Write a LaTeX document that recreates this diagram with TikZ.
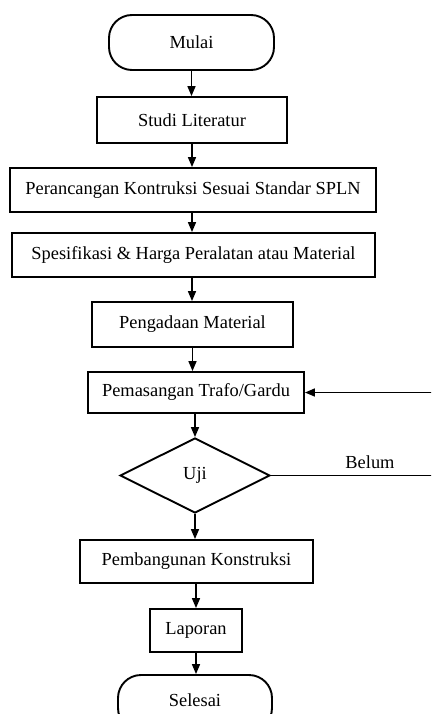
\documentclass[tikz,border=0pt]{standalone}
\usepackage{fontspec}
\setmainfont{Liberation Serif}
\usetikzlibrary{shapes.geometric,arrows.meta}
\tikzset{
  txt/.style={font=\fontsize{18.4}{21}\selectfont},
  box/.style={draw, line width=1.9pt, rectangle, inner sep=0pt, align=center, txt},
  term/.style={box, rounded corners=23pt},
  dec/.style={draw, line width=1.9pt, diamond, inner sep=0pt, txt},
  arr/.style={line width=1.6pt, -{Triangle[length=10pt,width=8pt]}},
  lbl/.style={inner sep=0pt, txt}
}
\begin{document}
\begin{tikzpicture}[x=1pt,y=-1pt]
\useasboundingbox (0,0) rectangle (431,714);
\clip (0,0) rectangle (431,714);
\node[term, minimum width=165pt, minimum height=55pt] (mulai) at (191.5,42.5) {Mulai};
\node[box, minimum width=190pt, minimum height=46pt] (studi) at (192,120) {Studi Literatur};
\node[box, minimum width=366pt, minimum height=44pt] (rancang) at (193,190) {Perancangan Kontruksi Sesuai Standar SPLN};
\node[box, minimum width=363pt, minimum height=44pt] (spek) at (193.5,255) {Spesifikasi \& Harga Peralatan atau Material};
\node[box, minimum width=201pt, minimum height=45pt] (ada) at (192.5,324.5) {Pengadaan Material};
\node[box, minimum width=216pt, minimum height=41pt] (pasang) at (196,392.5) {Pemasangan Trafo/Gardu};
\node[dec, minimum width=150pt, minimum height=75pt] (uji) at (195,475.5) {Uji};
\node[box, minimum width=233pt, minimum height=43pt] (bangun) at (196.5,561.5) {Pembangunan Konstruksi};
\node[box, minimum width=92pt, minimum height=43pt] (lapor) at (196,630.5) {Laporan};
\node[term, minimum width=154pt, minimum height=56pt] (selesai) at (195,703) {\raisebox{6pt}{Selesai}};
\node[lbl] (belum) at (370,462) {Belum};
\coordinate (r) at (440,0);
\draw[arr] (mulai.south) -- (mulai.south |- studi.north);
\draw[arr] (studi.south) -- (studi.south |- rancang.north);
\draw[arr] (rancang.south -| studi.south) -- (studi.south |- spek.north);
\draw[arr] (spek.south -| studi.south) -- (studi.south |- ada.north);
\draw[arr] (ada.south) -- (ada.south |- pasang.north);
\draw[arr] (pasang.south -| uji.north) -- (uji.north);
\draw[arr] (uji.south) -- (uji.south |- bangun.north);
\draw[arr] (bangun.south -| lapor.north) -- (lapor.north);
\draw[arr] (lapor.south) -- (lapor.south |- selesai.north);
\draw[arr] (uji.east) -- (uji.east -| r) -- (pasang.east -| r) -- (pasang.east);
\end{tikzpicture}
\end{document}
